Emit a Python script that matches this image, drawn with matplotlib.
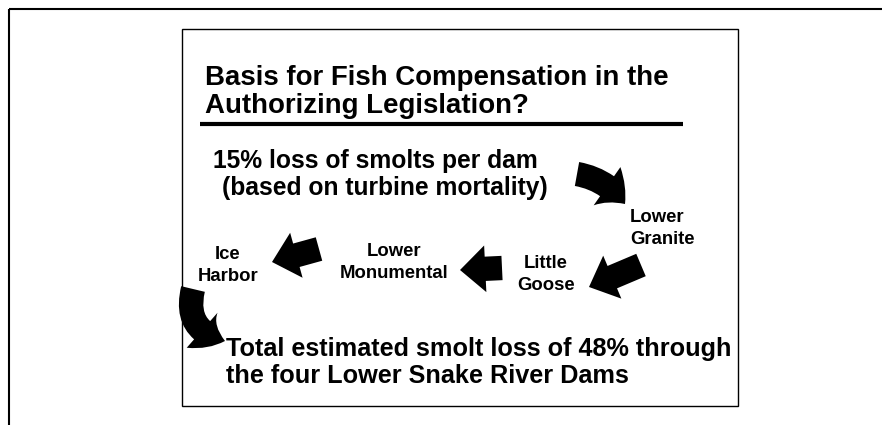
import matplotlib
matplotlib.use("Agg")
import matplotlib.pyplot as plt
from matplotlib.patches import FancyArrowPatch, Rectangle

title_lines = ["Basis for Fish Compensation in the", "Authorizing Legislation?"]
premise_lines = ["15% loss of smolts per dam", "(based on turbine mortality)"]
dams = ["Lower\nGranite", "Little\nGoose", "Lower\nMonumental", "Ice\nHarbor"]
conclusion_lines = ["Total estimated smolt loss of 48% through",
                    "the four Lower Snake River Dams"]

W, H = 882, 425
fig = plt.figure(figsize=(W / 100, H / 100), dpi=100)
ax = fig.add_axes([0, 0, 1, 1])
ax.set_xlim(0, W)
ax.set_ylim(H, 0)
ax.axis("off")

FONT = "Liberation Sans"
WT = "bold"

# outer frame (top and left edges)
ax.plot([9, 9], [H, 9], color="black", lw=1.5, solid_capstyle="butt")
ax.plot([9, W], [9, 9], color="black", lw=1.5, solid_capstyle="butt")
# inner slide box
ax.add_patch(Rectangle((182, 29), 556, 377, fill=False, ec="black", lw=1.0))

# title
ax.text(205, 85, title_lines[0], fontsize=19.9, family=FONT, weight=WT, ha="left", va="baseline")
ax.text(205, 113, title_lines[1], fontsize=19.9, family=FONT, weight=WT, ha="left", va="baseline")
ax.plot([200, 683], [124, 124], color="black", lw=3.0, solid_capstyle="butt")

# premise
ax.text(213, 168, premise_lines[0], fontsize=17.7, family=FONT, weight=WT, ha="left", va="baseline")
ax.text(222, 195, premise_lines[1], fontsize=17.7, family=FONT, weight=WT, ha="left", va="baseline")

# dam labels (x anchor, alignment, baseline of first line)
label_pos = [(630, 'left', 222), (546, 'center', 268), (394, 'center', 256), (228, 'center', 259)]
line_gap = 22
for name, (x, ha, y) in zip(dams, label_pos):
    for i, line in enumerate(name.split("\n")):
        ax.text(x, y + i * line_gap, line, fontsize=13.3, family=FONT, weight=WT,
                ha=ha, va="baseline")

# conclusion
ax.text(226, 356, conclusion_lines[0], fontsize=18.2, family=FONT, weight=WT, ha="left", va="baseline")
ax.text(226, 383, conclusion_lines[1], fontsize=18.2, family=FONT, weight=WT, ha="left", va="baseline")

# block arrows
style = "simple,head_width=2.4,head_length=1.3,tail_width=1.25"
arrows = [
    ((577, 174), (625, 204), -0.2),
    ((641, 265), (589, 287), 0.0),
    ((502, 268), (460, 270), 0.0),
    ((319, 249), (272, 262), 0.0),
    ((193, 289), (225, 341), 0.5),
]
for (p0, p1, rad) in arrows:
    a = FancyArrowPatch(p0, p1, arrowstyle=style, connectionstyle=f"arc3,rad={rad}",
                        mutation_scale=14, color="black", lw=0,
                        shrinkA=0, shrinkB=0)
    ax.add_patch(a)

fig.savefig("out.png", dpi=100)
